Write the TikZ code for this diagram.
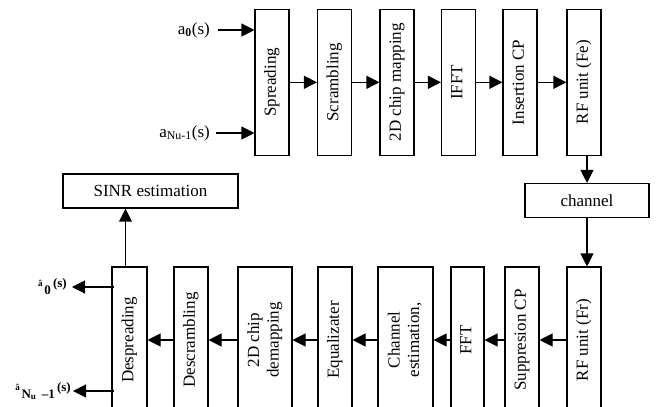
\documentclass[tikz,border=0pt]{standalone}
\usepackage{fontspec}
\setmainfont{Liberation Serif}
\usepackage{graphicx}
\usetikzlibrary{arrows.meta,positioning,calc}
\tikzset{
  blk/.style={draw, line width=1.1pt, minimum width=#1, minimum height=146pt,
              inner sep=0pt, font=\fontsize{17}{19.5}\selectfont},
  hbox/.style={draw, line width=1.1pt, minimum width=#1, minimum height=34pt,
               inner sep=0pt, font=\fontsize{17}{19.5}\selectfont},
  arr/.style={line width=1.1pt, -{Triangle[length=13pt,width=13pt]}},
  inlbl/.style={font=\fontsize{17}{19.5}\selectfont, inner sep=0pt},
  outlbl/.style={font=\bfseries, inner sep=0pt},
}
\newcommand{\vtxt}[1]{\rotatebox{90}{\begin{tabular}{@{}c@{}}#1\end{tabular}}}
\newcommand{\hatlbl}[1]{{\fontsize{9}{10}\selectfont\raisebox{4pt}{â}}\,{\fontsize{13}{14}\selectfont\raisebox{-4pt}{#1}\,\raisebox{3pt}{(s)}}}

\begin{document}
\begin{tikzpicture}[x=1pt,y=1pt]
\useasboundingbox (0,0) rectangle (659,-407);
% transmitter chain
\node[blk=34pt] (spr) at (272,-82.3) {\vtxt{Spreading}};
\node[blk=34pt] (scr) at (334.5,-82.3) {\vtxt{Scrambling}};
\node[blk=34pt] (map) at (397,-82.3) {\vtxt{2D chip mapping}};
\node[blk=34pt] (ifft) at (458.5,-82.3) {\vtxt{IFFT}};
\node[blk=34pt] (icp) at (520,-82.3) {\vtxt{Insertion CP}};
\node[blk=34pt] (rffe) at (584,-82.3) {\vtxt{RF unit (Fe)}};
% channel
\node[hbox=124pt] (chan) at (587,-200.5) {channel};
% receiver chain
\node[blk=34pt] (rffr) at (584,-340) {\vtxt{RF unit (Fr)}};
\node[blk=34pt] (scp) at (522,-340) {\vtxt{Suppresion CP}};
\node[blk=33pt] (fft) at (467.5,-340) {\vtxt{FFT}};
\node[blk=55pt] (cest) at (405.5,-340) {\vtxt{Channel\\estimation,}};
\node[blk=34pt] (equ) at (335,-340) {\vtxt{Equalizater}};
\node[blk=54pt] (demap) at (265,-340) {\vtxt{2D chip\\demapping}};
\node[blk=34pt] (dscr) at (191,-340) {\vtxt{Descrambling}};
\node[blk=35pt] (desp) at (129.5,-340) {\vtxt{Despreading}};
% SINR
\node[hbox=175pt] (sinr) at (150.5,-191) {SINR estimation};
% inputs
\node[inlbl, anchor=east] (a0) at (210,-30) {a\textsubscript{\textbf{0}}(s)};
\node[inlbl, anchor=east] (an) at (210,-133) {a\textsubscript{Nu-1}(s)};
\draw[arr] (a0.east) ++(8,0) -- (a0 -| spr.west);
\draw[arr] (an.east) ++(6,0) -- (an -| spr.west);
% outputs
\node[outlbl, anchor=east] (o0) at (67,-287) {\hatlbl{0}};
\node[outlbl, anchor=east] (on) at (71,-391) {\hatlbl{N\textsubscript{u} \,--1}};
\coordinate (d0) at ($(desp.west |- o0)+(3,0)$);
\coordinate (dn) at ($(desp.west |- on)+(3,0)$);
\draw[arr] (d0) -- ($(o0.east)+(5,0)$);
\draw[arr] (dn) -- ($(on.east)+(2,0)$);
% connections
\draw[arr] (spr) -- (scr);
\draw[arr] (scr) -- (map);
\draw[arr] (map) -- (ifft);
\draw[arr] (ifft) -- (icp);
\draw[arr] (icp) -- (rffe);
\draw[arr] (rffe.south -| chan.north) -- (chan.north);
\draw[arr] (chan.south) -- (chan.south |- rffr.north);
\draw[arr] (rffr) -- (scp);
\draw[arr] (scp) -- (fft);
\draw[arr] (fft) -- (cest);
\draw[arr] (cest) -- (equ);
\draw[arr] (equ) -- (demap);
\draw[arr] (demap) -- (dscr);
\draw[arr] (dscr) -- (desp);
\coordinate (despup) at ($(desp.north)+(-4,0)$);
\coordinate (sinrin) at (despup |- sinr.south);
\draw[line width=1.1pt] (despup) -- ($(sinrin)+(0,-10)$);
\fill (sinrin) -- ++(-6.5,-13) -- ++(13,0) -- cycle;
\end{tikzpicture}
\end{document}
